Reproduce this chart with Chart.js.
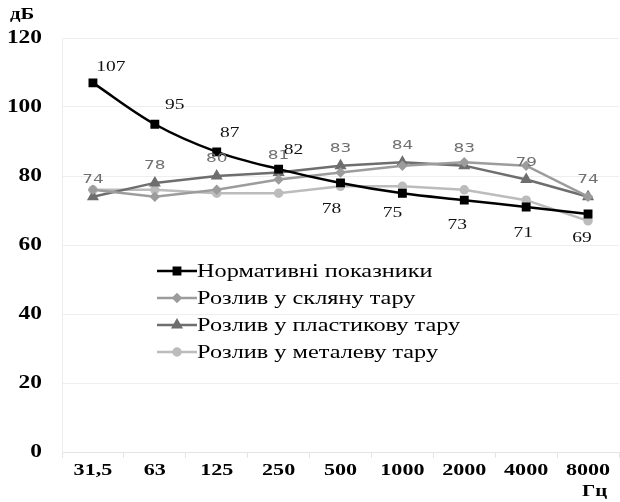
<!DOCTYPE html>
<html>
<head>
<meta charset="utf-8">
<script src="https://cdn.jsdelivr.net/npm/chart.js@4/dist/chart.umd.min.js"></script>
<style>
  html, body { margin: 0; padding: 0; overflow: hidden; background: #fff; }
  #wrap { position: absolute; left: 0; top: 0; width: 626px; height: 502px; }
</style>
</head>
<body>
<div id="wrap"><canvas id="graphique"></canvas></div>
<script>
// Données
const categories = ['31,5', '63', '125', '250', '500', '1000', '2000', '4000', '8000'];
const normatif = [107, 95, 87, 82, 78, 75, 73, 71, 69];
const verre = [76, 74, 76, 79, 81, 83, 84, 83, 74];
const plastique = [74, 78, 80, 81, 83, 84, 83, 79, 74];
const metal = [76, 76, 75, 75, 77, 77, 76, 73, 67];
const yTicks = [0, 20, 40, 60, 80, 100, 120];

const SERIF = '"Liberation Serif", "DejaVu Serif", serif';
const SANS = '"DejaVu Sans", Verdana, sans-serif';
// l'image d'origine est étirée horizontalement
const ETIRE = 1.3;

const COULEURS = {
  noir: '#000000',
  verre: '#9c9c9c',
  plastique: '#6e6e6e',
  metal: '#bcbcbc',
};

// décalages des étiquettes de la série noire
const decalNoir = [[18, -16], [20, -19], [13, -19], [15, -19], [-9, 26], [-10, 20], [-7, 25], [-3, 26], [-6, 24]];

function texte(ctx, txt, x, y, sx) {
  ctx.save();
  ctx.translate(x, y);
  ctx.scale(sx, 1);
  ctx.fillText(txt, 0, 0);
  ctx.restore();
}

const etiquettes = {
  id: 'etiquettes',
  afterDatasetsDraw(chart) {
    const ctx = chart.ctx;
    ctx.save();
    ctx.textAlign = 'center';
    ctx.textBaseline = 'middle';
    // série noire
    const m0 = chart.getDatasetMeta(0);
    ctx.font = '15px ' + SERIF;
    ctx.fillStyle = '#111';
    m0.data.forEach((p, i) => {
      texte(ctx, String(normatif[i]), p.x + decalNoir[i][0], p.y + decalNoir[i][1], ETIRE);
    });
    // série plastique
    const m2 = chart.getDatasetMeta(2);
    ctx.font = '13px ' + SANS;
    ctx.fillStyle = '#707070';
    m2.data.forEach((p, i) => {
      texte(ctx, String(plastique[i]), p.x, p.y - 17, ETIRE);
    });
    ctx.restore();
  }
};

const legende = {
  id: 'legende',
  afterDraw(chart) {
    const ctx = chart.ctx;
    ctx.save();
    ctx.font = '18px ' + SERIF;
    ctx.textBaseline = 'middle';
    ctx.textAlign = 'left';
    chart.data.datasets.forEach((ds, i) => {
      const y = 271 + i * 27;
      ctx.strokeStyle = ds.borderColor;
      ctx.lineWidth = 2.5;
      ctx.beginPath();
      ctx.moveTo(157, y);
      ctx.lineTo(197, y);
      ctx.stroke();
      Chart.helpers.drawPoint(ctx, {
        pointStyle: ds.pointStyle, radius: ds.pointRadius, borderWidth: 1, rotation: 0
      }, 177, y);
      ctx.fillStyle = ds.pointBackgroundColor;
      ctx.fill();
      ctx.fillStyle = '#000';
      texte(ctx, ds.label, 197, y + 1, 1.35);
    });
    ctx.restore();
  }
};

// graduations et unités dessinées à la main pour l'étirement
const axes = {
  id: 'axes',
  afterDraw(chart) {
    const ctx = chart.ctx;
    const sx = chart.scales.x, sy = chart.scales.y;
    ctx.save();
    ctx.fillStyle = '#000';
    ctx.textBaseline = 'middle';
    ctx.font = 'bold 17px ' + SERIF;
    ctx.textAlign = 'center';
    sx.ticks.forEach((t, i) => {
      texte(ctx, categories[i], sx.getPixelForTick(i), 471, ETIRE);
    });
    ctx.font = 'bold 18px ' + SERIF;
    ctx.textAlign = 'right';
    yTicks.forEach(v => {
      texte(ctx, String(v), 42, sy.getPixelForValue(v), ETIRE);
    });
    ctx.textAlign = 'left';
    ctx.font = 'bold 16px ' + SERIF;
    texte(ctx, 'дБ', 10, 15, ETIRE);
    texte(ctx, 'Гц', 582, 492, ETIRE);
    ctx.restore();
  }
};

function serie(label, data, couleur, style, rayon, epaisseur, tension) {
  return {
    label: label,
    data: data,
    borderColor: couleur,
    backgroundColor: couleur,
    pointBackgroundColor: couleur,
    pointBorderColor: couleur,
    pointStyle: style,
    pointRadius: rayon,
    borderWidth: epaisseur,
    tension: tension,
  };
}

const data = {
  labels: categories,
  datasets: [
    serie('Нормативні показники', normatif, COULEURS.noir, 'rect', 4.5, 2.5, 0.35),
    serie('Розлив у скляну тару', verre, COULEURS.verre, 'rectRot', 3.5, 2.5, 0),
    serie('Розлив у пластикову тару', plastique, COULEURS.plastique, 'triangle', 4.5, 2.5, 0),
    serie('Розлив у металеву тару', metal, COULEURS.metal, 'circle', 3.5, 2.5, 0),
  ]
};

const options = {
  animation: false,
  responsive: true,
  maintainAspectRatio: false,
  layout: { padding: { top: 38, right: 0, bottom: 0, left: 0 } },
  scales: {
    x: {
      offset: true,
      grid: { offset: true, drawOnChartArea: false, drawTicks: true, tickLength: 6, color: '#e4e4e4' },
      border: { color: '#e4e4e4' },
      ticks: { color: 'rgba(0,0,0,0)', font: { family: SERIF, size: 16, weight: 'bold' }, padding: 2, maxRotation: 0 },
      afterFit(scale) { scale.height = 50; }
    },
    y: {
      min: 0, max: 120,
      afterBuildTicks(scale) { scale.ticks = yTicks.map(v => ({ value: v })); },
      grid: { color: '#eeeeee', drawTicks: false },
      border: { color: '#eeeeee' },
      ticks: { color: 'rgba(0,0,0,0)', font: { family: SERIF, size: 17, weight: 'bold' }, padding: 20 },
      afterFit(scale) { scale.width = 62; }
    }
  },
  plugins: {
    legend: { display: false },
    tooltip: { enabled: false },
  }
};

const ctx = document.getElementById('graphique').getContext('2d');
new Chart(ctx, { type: 'line', data: data, options: options, plugins: [etiquettes, legende, axes] });
</script>
</body>
</html>
